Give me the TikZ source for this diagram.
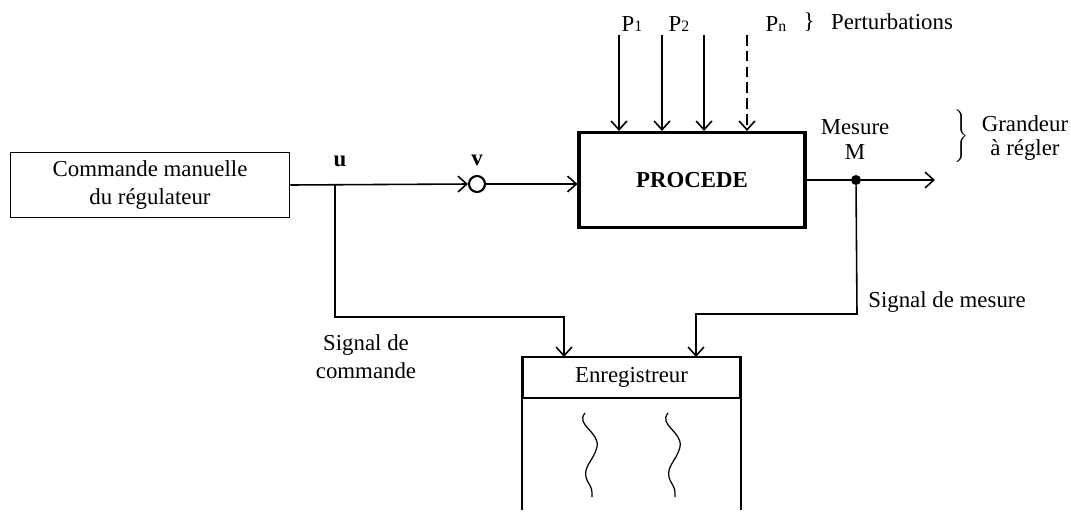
\documentclass[tikz,border=0pt]{standalone}
\usepackage{fontspec}
\setmainfont{Liberation Serif}
\usetikzlibrary{arrows.meta}

\tikzset{
  sig/.style={line width=0.9pt, -{Straight Barb[length=5pt,width=9pt,line width=0.9pt]}},
  wire/.style={line width=0.9pt},
  cmdbox/.style={draw, line width=1pt, minimum width=5.58cm, minimum height=1.3cm, align=center},
  procbox/.style={draw, line width=1.8pt, minimum width=4.52cm, minimum height=1.9cm,
    font=\fontsize{13}{15}\selectfont\bfseries},
  enrbox/.style={draw, line width=1.2pt, minimum width=4.34cm, minimum height=0.82cm},
  sumnode/.style={draw, circle, line width=1.2pt, minimum size=0.32cm, inner sep=0pt},
  dotnode/.style={circle, fill, minimum size=0.2cm, inner sep=0pt},
  lettre/.style={font=\fontsize{13}{15}\selectfont\bfseries},
}

\begin{document}
\begin{tikzpicture}[x=0.02cm, y=-0.02cm, font=\fontsize{13}{15.5}\selectfont]
\useasboundingbox (0,0) rectangle (1071,511);

% blocs
\node[cmdbox] (cmd) at (150,185) {Commande manuelle\\du régulateur};
\node[sumnode] (sum) at (477,184) {};
\node[procbox] (proc) at (692,180) {PROCEDE};
\node[enrbox] (enr) at (631.5,377.5) {Enregistreur};
\draw[line width=1.2pt] (enr.north west) -- ++(0,154);
\draw[line width=1.2pt] (enr.north east) -- ++(0,154);

% traces de l'enregistreur
\draw[line width=0.7pt] (585,413) .. controls (575,425) and (600,432) .. (597,447)
  .. controls (594,461) and (580,468) .. (588,482) .. controls (592,489) .. (592,497);
\draw[line width=0.7pt] (668,413) .. controls (658,425) and (683,432) .. (680,447)
  .. controls (677,461) and (663,468) .. (671,482) .. controls (675,489) .. (675,497);

% commande
\coordinate (uj) at (335,185);
\draw[sig] (cmd.east) -- (sum.west);
\draw[sig] (sum.east) -- (sum -| proc.west);
\node[lettre] (u) at (340,161) {u};
\node[lettre] (v) at (477,160) {v};

% perturbations
\foreach \x [count=\i] in {619,662,704} {
  \coordinate (pt\i) at (\x,35);
  \draw[sig] (pt\i) -- (pt\i |- proc.north);
}
\coordinate (ptn) at (747,35);
\draw[sig, dashed, dash pattern=on 6pt off 3pt] (ptn) -- (ptn |- proc.north);
\node (p1) at (632,24) {P{\small 1}};
\node (p2) at (679,24) {P{\small 2}};
\node (pn) at (776,24) {P{\small n}};
\node (pb) at (809,22) {\}};
\node (pert) at (892,22) {Perturbations};

% mesure
\node[dotnode] (mj) at (856,180) {};
\coordinate (out) at (935,180);
\draw[wire] (proc.east |- mj) -- (mj);
\draw[sig] (mj) -- (out);
\node (mes) at (855,127) {Mesure};
\node (mm) at (855,152) {M};
\node (gb) at (961,137) {$\left.\vrule height 14pt depth 13pt width 0pt\right\}$};
\node (gr) at (1025,124) {Grandeur};
\node (ar) at (1025,150) {à régler};

% vers l'enregistreur
\coordinate (in1) at (564,357);
\coordinate (in2) at (696,357);
\draw[sig] (uj) -- (335,317) -| (in1);
\draw[sig] (mj) -- (857,314) -| (in2);
\node (sc1) at (366,345) {Signal de};
\node (sc2) at (366,371) {commande};
\node (sm) at (947,302) {Signal de mesure};
\end{tikzpicture}
\end{document}
